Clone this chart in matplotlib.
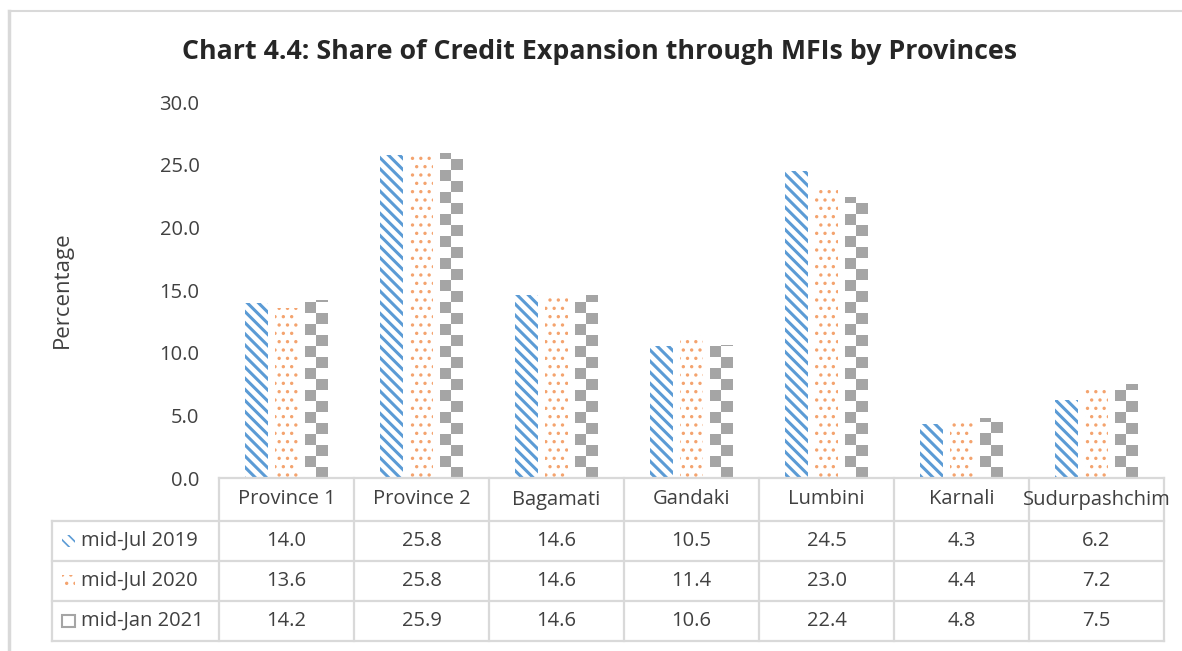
import numpy as np
import matplotlib
matplotlib.use("Agg")
import matplotlib.pyplot as plt
from matplotlib.patches import Rectangle
from matplotlib.lines import Line2D

categories = ["Province 1", "Province 2", "Bagamati", "Gandaki", "Lumbini", "Karnali", "Sudurpashchim"]
series_names = ["mid-Jul 2019", "mid-Jul 2020", "mid-Jan 2021"]
jul2019 = [14.0, 25.8, 14.6, 10.5, 24.5, 4.3, 6.2]
jul2020 = [13.6, 25.8, 14.6, 11.4, 23.0, 4.4, 7.2]
jan2021 = [14.2, 25.9, 14.6, 10.6, 22.4, 4.8, 7.5]
yticks = [0, 5, 10, 15, 20, 25, 30]
title = "Chart 4.4: Share of Credit Expansion through MFIs by Provinces"
ylabel = "Percentage"

plt.rcParams['font.family'] = ['Open Sans', 'DejaVu Sans']
TXT = '#404040'
GRID = '#d9d9d9'
BLUE = '#5b9bd5'
ORANGE = '#f4a36e'
GRAY = '#a5a5a5'

W, H = 1182, 651
fig = plt.figure(figsize=(W / 100, H / 100), dpi=100)

def fx(px):
    return px / W

def fy(py):
    return 1 - py / H

ax_l, ax_r, ax_t, ax_b = 219, 1164, 102, 478
ax = fig.add_axes([fx(ax_l), fy(ax_b), fx(ax_r - ax_l), (ax_b - ax_t) / H])
ax.set_xlim(-0.5, len(categories) - 0.5)
ax.set_ylim(0, 30)
for s in ax.spines.values():
    s.set_visible(False)
ax.set_xticks([])
ax.set_yticks(yticks)
ax.set_yticklabels([f"{v:.1f}" for v in yticks], fontsize=14.5, color=TXT)
ax.tick_params(axis='y', length=0, pad=14)

x = np.arange(len(categories))
bw = 0.17
off = 0.222

plt.rcParams['hatch.linewidth'] = 2.2
ax.bar(x - off, jul2019, bw, color='white', edgecolor=BLUE, hatch='\\\\\\', linewidth=0)
plt.rcParams['hatch.linewidth'] = 1.2
ax.bar(x, jul2020, bw, color='white', edgecolor=ORANGE, hatch='..', linewidth=0)
gray_bars = ax.bar(x + off, jan2021, bw, color='white', edgecolor='none', linewidth=0)

# checkerboard fill for the third series
cell_h = 11 * 30 / (ax_b - ax_t)
for rect in gray_bars:
    x0 = rect.get_x()
    w = rect.get_width()
    h = rect.get_height()
    nrows = int(np.ceil(h / cell_h)) + 1
    board = np.indices((nrows, 2)).sum(axis=0) % 2
    img = np.where(board[..., None] == 1, np.array([165, 165, 165]) / 255, np.array([1.0, 1.0, 1.0]))
    im = ax.imshow(img, extent=(x0, x0 + w, 0, nrows * cell_h), origin='lower',
                   aspect='auto', interpolation='nearest', zorder=2)
    im.set_clip_path(rect)
ax.set_xlim(-0.5, len(categories) - 0.5)
ax.set_ylim(0, 30)

# y label and title
fig.text(fx(62), fy(290), ylabel, rotation=90, ha='center', va='center', fontsize=16, color=TXT)
fig.text(fx(600), fy(52), title, ha='center', va='center', fontsize=19.3, fontweight='bold', color='#262626')

# data table
tbl_left = 52
row_edges = [478, 521, 561, 601, 641]
col_w = (ax_r - ax_l) / len(categories)
col_edges = [ax_l + i * col_w for i in range(len(categories) + 1)]

def hline(y, x0, x1):
    fig.add_artist(Line2D([fx(x0), fx(x1)], [fy(y), fy(y)], color=GRID, lw=1.6))

def vline(x0, y0, y1):
    fig.add_artist(Line2D([fx(x0), fx(x0)], [fy(y0), fy(y1)], color=GRID, lw=1.6))

hline(row_edges[0], ax_l, ax_r)
for y in row_edges[1:]:
    hline(y, tbl_left, ax_r)
for cx in col_edges:
    vline(cx, row_edges[0], row_edges[-1])
vline(tbl_left, row_edges[1], row_edges[-1])

for i, c in enumerate(categories):
    cx = (col_edges[i] + col_edges[i + 1]) / 2
    fig.text(fx(cx), fy((row_edges[0] + row_edges[1]) / 2), c, ha='center', va='center', fontsize=14.5, color=TXT)

all_series = [jul2019, jul2020, jan2021]
for r, vals in enumerate(all_series):
    cy = (row_edges[r + 1] + row_edges[r + 2]) / 2
    for i, v in enumerate(vals):
        cx = (col_edges[i] + col_edges[i + 1]) / 2
        fig.text(fx(cx), fy(cy), f"{v:.1f}", ha='center', va='center', fontsize=14.5, color=TXT)
    fig.text(fx(81), fy(cy), series_names[r], ha='left', va='center', fontsize=14.5, color=TXT)

# legend keys
key_styles = [
    dict(facecolor='white', edgecolor=BLUE, hatch='\\\\\\'),
    dict(facecolor='white', edgecolor=ORANGE, hatch='..'),
    dict(facecolor='white', edgecolor=GRAY, hatch=None),
]
for r, st in enumerate(key_styles):
    cy = (row_edges[r + 1] + row_edges[r + 2]) / 2
    k = Rectangle((fx(62), fy(cy + 6)), fx(13), 12 / H, transform=fig.transFigure,
                  linewidth=0 if r < 2 else 1.5, **st)
    fig.add_artist(k)

# outer chart border
fig.add_artist(Line2D([fx(9), fx(9)], [fy(11), fy(651)], color=GRID, lw=2.5))
fig.add_artist(Line2D([fx(9), fx(1182)], [fy(11), fy(11)], color=GRID, lw=1.5))

fig.savefig("out.png", dpi=100)
